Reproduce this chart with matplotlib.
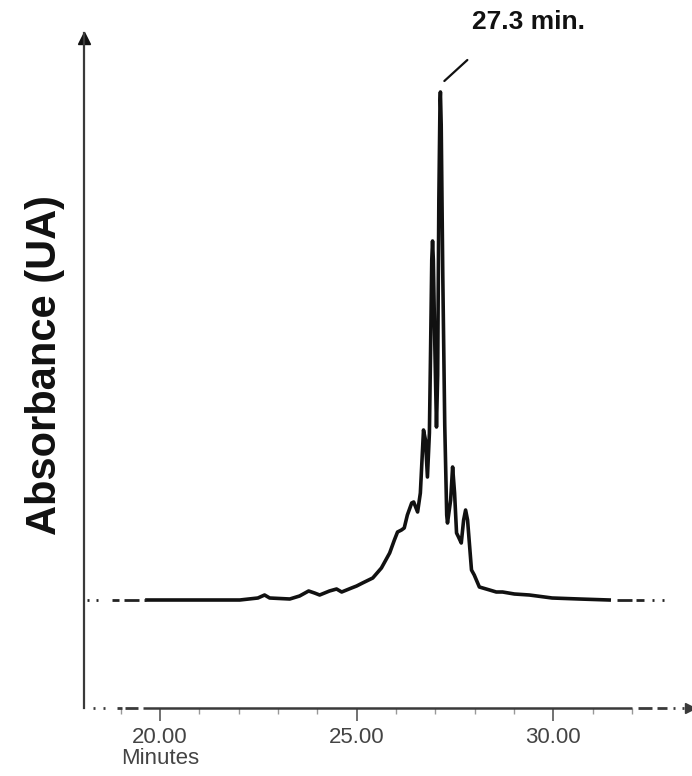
import matplotlib
matplotlib.use('Agg')
import matplotlib.pyplot as plt
import numpy as np

plt.rcParams['font.family'] = ['Liberation Sans', 'DejaVu Sans']
plt.rcParams['lines.scale_dashes'] = False

# chromatogram trace (retention time in min, absorbance in UA)
time = [19.67, 21.02, 22.03, 22.49, 22.66, 22.79, 23.30, 23.55, 23.78, 23.93,
        24.06, 24.31, 24.49, 24.62, 24.87, 25.00, 25.15, 25.41, 25.63, 25.84,
        25.96, 26.04, 26.14, 26.21, 26.29, 26.40, 26.45, 26.55, 26.62, 26.70,
        26.75, 26.80, 26.85, 26.88, 26.91, 26.93, 26.95, 26.99, 27.03, 27.06,
        27.09, 27.12, 27.13, 27.15, 27.19, 27.24, 27.29, 27.31, 27.39, 27.44,
        27.49, 27.54, 27.59, 27.66, 27.72, 27.77, 27.82, 27.92, 27.99, 28.12,
        28.38, 28.55, 28.71, 29.01, 29.39, 29.97, 30.66, 31.42]
absorb = [0.000, 0.000, 0.000, 0.004, 0.010, 0.004, 0.002, 0.008, 0.018, 0.014,
          0.010, 0.018, 0.022, 0.016, 0.024, 0.028, 0.034, 0.044, 0.064, 0.094,
          0.120, 0.136, 0.140, 0.144, 0.170, 0.194, 0.196, 0.176, 0.214, 0.340,
          0.320, 0.246, 0.334, 0.500, 0.680, 0.718, 0.680, 0.500, 0.346, 0.450,
          0.800, 1.000, 1.016, 0.950, 0.650, 0.350, 0.170, 0.154, 0.200, 0.266,
          0.214, 0.134, 0.126, 0.114, 0.160, 0.180, 0.160, 0.060, 0.050, 0.026,
          0.020, 0.016, 0.016, 0.012, 0.010, 0.004, 0.002, 0.000]
major_ticks = [20, 25, 30]
minor_ticks = [19, 21, 22, 23, 24, 26, 27, 28, 29, 31, 32]
tick_labels = ['20.00', '25.00', '30.00']
peak_label = '27.3 min.'

PX = 72 / 100  # points per pixel at dpi 100
axis_col = '#3a3a3a'

fig = plt.figure(figsize=(6.92, 7.76), dpi=100)
ax = fig.add_axes([84/692, 68/776, 548/692, 675/776])
ax.set_xlim(18.07, 31.98)
ax.set_ylim(-0.216, 1.134)

# trace
ax.plot(time, absorb, color='#111111', lw=2.6, solid_joinstyle='round')

# dashed baseline lead-in / lead-out
def lead(x0, x1, y, pattern_px, trans=None, lw=2.0, color='#222222'):
    kw = {} if trans is None else {'transform': trans}
    ax.plot([x0, x1], [y, y], color=color, lw=lw, clip_on=False,
            dashes=[p * PX for p in pattern_px], solid_capstyle='butt',
            dash_capstyle='butt', **kw)

lead(ax.get_xlim()[0] + 0.07, time[0], absorb[0], [2, 7, 2, 14, 7, 5, 15, 5])
lead(time[-1] + 0.2, time[-1] + 1.55, absorb[-1], [15, 4, 8, 8, 2, 8, 2, 8])

# axes frame
for s in ['top', 'right', 'bottom']:
    ax.spines[s].set_visible(False)
ax.spines['left'].set_color(axis_col)
ax.spines['left'].set_linewidth(1.6)
ax.set_yticks([])

# bottom axis: solid middle part, dashed ends
ax.plot([59/548, 1.0], [0, 0], transform=ax.transAxes, color=axis_col,
        lw=1.8, clip_on=False, solid_capstyle='butt')
lead(9/548, 59/548, 0, [2, 8, 2, 12, 5, 3, 13, 5], trans=ax.transAxes, color=axis_col)
lead(1 + 6/548, 1 + 52/548, 0, [14, 5, 10, 6, 2, 7, 2, 9], trans=ax.transAxes, color=axis_col)
ax.plot(1 + 58/548, 0, marker='>', ms=7, color=axis_col, transform=ax.transAxes, clip_on=False)
ax.plot(0, 1 - 5/675, marker='^', ms=9, color='#111111', transform=ax.transAxes, clip_on=False)

ax.set_xticks(major_ticks)
ax.set_xticklabels(tick_labels)
ax.set_xticks(minor_ticks, minor=True)
ax.tick_params(axis='x', which='major', direction='out', length=9, width=1.3,
               color='#666666', labelsize=16, labelcolor='#444444', pad=5)
ax.tick_params(axis='x', which='minor', direction='out', length=4, width=1.0,
               color='#999999')

ax.text(20, -50/675, 'Minutes', transform=ax.get_xaxis_transform(),
        ha='center', va='center', fontsize=16, color='#444444')

fig.text(45/692, 1 - 365/776, 'Absorbance (UA)', rotation=90, ha='center',
         va='center', fontsize=30, fontweight='bold', color='#111111')

# peak annotation
ip = int(np.argmax(absorb))
ax.annotate('', xy=(time[ip] + 0.1, absorb[ip] + 0.022), xycoords='data',
            xytext=(23 * PX, 21 * PX), textcoords='offset points',
            arrowprops=dict(arrowstyle='-', lw=1.6, color='#111111',
                            shrinkA=0, shrinkB=0))
ax.annotate(peak_label, xy=(time[ip] + 0.1, absorb[ip] + 0.022), xycoords='data',
            xytext=(28 * PX, 59 * PX), textcoords='offset points',
            ha='left', va='center', fontsize=19, fontweight='bold',
            color='#111111', annotation_clip=False)

fig.savefig('out.png', dpi=100)
